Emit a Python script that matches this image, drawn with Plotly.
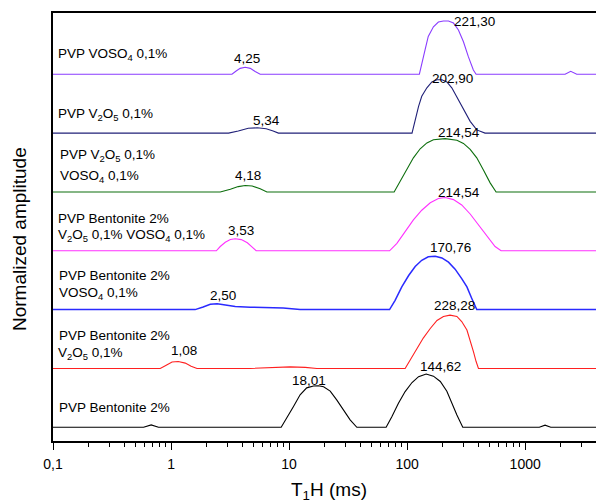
import math
import plotly.graph_objects as go

# ---------------- data ----------------
# T1H in ms, normalized amplitude of each curve (before vertical stacking)
black_x = [0.1, 0.585, 0.679, 0.783, 8.57, 9.57, 10.9, 12.4, 14.1, 16.1, 17.7, 19.6, 22.3, 25.4, 28.9, 32.9, 37.5,
           66.4, 74.2, 84.4, 96.2, 110, 125, 145, 167, 191, 217, 239, 264, 296, 1318, 1474, 1648, 5000]
black_y = [0, 0, 0.045, 0, 0, 0.17, 0.39, 0.61, 0.74, 0.775, 0.78, 0.76, 0.68, 0.51, 0.325, 0.14, 0,
           0, 0.20, 0.45, 0.67, 0.84, 0.95, 1.0, 0.96, 0.86, 0.675, 0.45, 0.23, 0, 0, 0.04, 0, 0]

red_x = [0.1, 0.81, 0.91, 1.02, 1.15, 1.32, 1.48, 1.66, 4.69, 6.92, 10.2, 13.7, 17.2,
         96.2, 106, 121, 137, 157, 179, 203, 231, 264, 290, 321, 342, 365, 384, 402, 5000]
red_y = [0, 0, 0.06, 0.12, 0.13, 0.10, 0.04, 0, 0, 0.015, 0.03, 0.02, 0,
         0, 0.16, 0.38, 0.57, 0.75, 0.90, 0.975, 1.0, 0.975, 0.88, 0.72, 0.53, 0.31, 0.13, 0, 0]

blue_x = [0.1, 1.60, 1.87, 2.15, 2.46, 2.88, 3.50, 4.69, 6.53, 8.91, 12.4,
          71.0, 79.1, 90.1, 103, 117, 133, 151, 173, 197, 224, 255, 290, 321, 353, 389, 5000]
blue_y = [0, 0, 0.05, 0.10, 0.11, 0.09, 0.06, 0.045, 0.04, 0.03, 0,
          0, 0.175, 0.425, 0.64, 0.81, 0.925, 0.99, 1.0, 0.97, 0.89, 0.76, 0.58, 0.425, 0.21, 0, 0]

magenta_x = [0.1, 2.42, 2.61, 2.88, 3.18, 3.50, 3.94, 4.43, 4.87, 5.26,
             71.0, 81.9, 96.2, 113, 133, 157, 184, 210, 247, 290, 342, 402, 473, 556, 625, 5000]
magenta_y = [0, 0, 0.08, 0.16, 0.21, 0.225, 0.21, 0.15, 0.07, 0,
             0, 0.14, 0.36, 0.58, 0.76, 0.90, 0.98, 1.0, 0.96, 0.86, 0.69, 0.48, 0.27, 0.08, 0, 0]

green_x = [0.1, 2.61, 3.18, 3.71, 4.25, 4.87, 5.69, 6.49,
           77.6, 87.3, 99.4, 113, 129, 147, 167, 210, 264, 300, 342, 389, 443, 505, 567, 5000]
green_y = [0, 0, 0.05, 0.10, 0.12, 0.11, 0.06, 0,
           0, 0.20, 0.43, 0.64, 0.81, 0.92, 0.98, 1.0, 0.97, 0.91, 0.80, 0.64, 0.41, 0.17, 0, 0]

navy_x = [0.1, 3.07, 3.71, 4.51, 5.37, 6.40, 7.33, 8.12,
          110, 117, 125, 133, 147, 162, 179, 197, 217, 239, 264, 300, 342, 389, 457, 5000]
navy_y = [0, 0, 0.04, 0.09, 0.10, 0.08, 0.04, 0,
          0, 0.25, 0.50, 0.69, 0.85, 0.96, 1.0, 1.0, 0.96, 0.85, 0.68, 0.44, 0.22, 0.06, 0, 0]

violet_x = [0.1, 3.28, 3.56, 3.85, 4.25, 4.69, 5.16, 5.69,
            127, 133, 142, 151, 167, 184, 203, 224, 247, 272, 300, 330, 364, 384, 2178, 2432, 2735, 5000]
violet_y = [0, 0, 0.06, 0.11, 0.13, 0.11, 0.05, 0,
            0, 0.17, 0.46, 0.71, 0.89, 0.98, 1.0, 1.0, 0.96, 0.83, 0.61, 0.33, 0.08, 0, 0, 0.056, 0, 0]

# peak labels: text, peak value (ms), curve index, amplitude at that peak
peak_text = ["18,01", "144,62", "1,08", "228,28", "2,50", "170,76", "3,53", "214,54",
             "4,18", "214,54", "5,34", "202,90", "4,25", "221,30"]
peak_value = [18.01, 144.62, 1.08, 228.28, 2.50, 170.76, 3.53, 214.54,
              4.18, 214.54, 5.34, 202.90, 4.25, 221.30]
peak_curve = [0, 0, 1, 1, 2, 2, 3, 3, 4, 4, 5, 5, 6, 6]
peak_amp = [0.78, 1.0, 0.13, 1.0, 0.11, 1.0, 0.225, 1.0, 0.12, 1.0, 0.10, 1.0, 0.13, 1.0]

# sample names (one text line per entry) and which curve they belong to
name_lines = ["PVP Bentonite 2%",
              "PVP Bentonite 2%", "V<sub>2</sub>O<sub>5</sub> 0,1%",
              "PVP Bentonite 2%", "VOSO<sub>4</sub> 0,1%",
              "PVP Bentonite 2%", "V<sub>2</sub>O<sub>5</sub> 0,1% VOSO<sub>4</sub> 0,1%",
              "PVP V<sub>2</sub>O<sub>5</sub> 0,1%", "VOSO<sub>4</sub> 0,1%",
              "PVP V<sub>2</sub>O<sub>5</sub> 0,1%",
              "PVP VOSO<sub>4</sub> 0,1%"]

tick_vals = [0.1, 1, 10, 100, 1000]
tick_text = ["0,1", "1", "10", "100", "1000"]

# ---------------- layout / style constants ----------------
W, H = 596, 503
L, R, T, B = 53, 0, 13, 62
X_RANGE = [-1, 3.6]
Y_RANGE = [-0.257, 7.773]
OFFSET_STEP = 1.104
FONT = "Liberation Sans, Arial, Helvetica, sans-serif"

curves = [
    (black_x, black_y, "#000000", 1.1),
    (red_x, red_y, "#ff2020", 1.1),
    (blue_x, blue_y, "#2a2aff", 1.5),
    (magenta_x, magenta_y, "#ff30ff", 1.1),
    (green_x, green_y, "#0d6e0d", 1.1),
    (navy_x, navy_y, "#202078", 1.1),
    (violet_x, violet_y, "#8a3cff", 1.1),
]

fig = go.Figure()
for k, (xs, ys, col, lw) in enumerate(curves):
    fig.add_trace(go.Scatter(
        x=xs, y=[v + k * OFFSET_STEP for v in ys], mode="lines",
        line=dict(color=col, width=lw), showlegend=False, hoverinfo="skip"))

# label nudges in pixels (dx, dy) relative to the peak top
peak_shift = [(-10, 5), (14, 8), (9, 11), (5, 10), (5, 8), (16, 9), (5, 8), (13, 5),
              (4, 10), (13, 6), (10, 7), (9, 1), (2, 9), (27, -1)]

annotations = []
for txt, val, ci, amp, (dx, dy) in zip(peak_text, peak_value, peak_curve, peak_amp, peak_shift):
    annotations.append(dict(
        x=math.log10(val), y=ci * OFFSET_STEP + amp, xref="x", yref="y",
        text=txt, showarrow=False, xanchor="center", yanchor="middle",
        xshift=dx, yshift=dy, font=dict(family=FONT, size=13.5, color="#000")))

plot_w = W - L - R
plot_h = H - T - B

def px_x(px):
    return (px - L) / plot_w

def px_y(py):
    return (H - B - py) / plot_h

name_pos = [(57, 407), (57, 335), (56, 353), (57, 276), (57, 293), (56, 218), (56, 236),
            (58, 155), (58, 176), (56, 115), (56, 55)]
for txt, (xp, yp) in zip(name_lines, name_pos):
    annotations.append(dict(
        x=px_x(xp), y=px_y(yp), xref="paper", yref="paper", text=txt, showarrow=False,
        xanchor="left", yanchor="middle", font=dict(family=FONT, size=13.5, color="#000")))

# axis titles
annotations.append(dict(
    x=px_x(329), y=px_y(491), xref="paper", yref="paper", text="T<sub>1</sub>H (ms)",
    showarrow=False, xanchor="center", yanchor="middle",
    font=dict(family=FONT, size=19, color="#000")))
annotations.append(dict(
    x=px_x(19), y=px_y(239), xref="paper", yref="paper", text="Normalized amplitude",
    showarrow=False, xanchor="center", yanchor="middle", textangle=-90,
    font=dict(family=FONT, size=19, color="#000")))

minor_vals = [m * 10 ** e for e in range(-1, 4) for m in range(2, 10)]

fig.update_layout(
    width=W, height=H, margin=dict(l=L, r=R, t=T, b=B, pad=0),
    paper_bgcolor="white", plot_bgcolor="white",
    annotations=annotations,
    xaxis=dict(type="log", range=X_RANGE, showgrid=False, zeroline=False,
               showline=True, linecolor="#000", linewidth=1.6, mirror=True,
               ticks="outside", ticklen=7, tickwidth=1.4, tickcolor="#000",
               tickvals=tick_vals, ticktext=tick_text, ticklabelstandoff=2,
               tickfont=dict(family=FONT, size=14, color="#000"),
               minor=dict(tickvals=minor_vals, ticks="outside", ticklen=4,
                          tickwidth=1.2, tickcolor="#000", showgrid=False)),
    yaxis=dict(range=Y_RANGE, showgrid=False, zeroline=False, showticklabels=False,
               showline=True, linecolor="#000", linewidth=1.6, ticks=""),
)

fig.write_html("out.html")
